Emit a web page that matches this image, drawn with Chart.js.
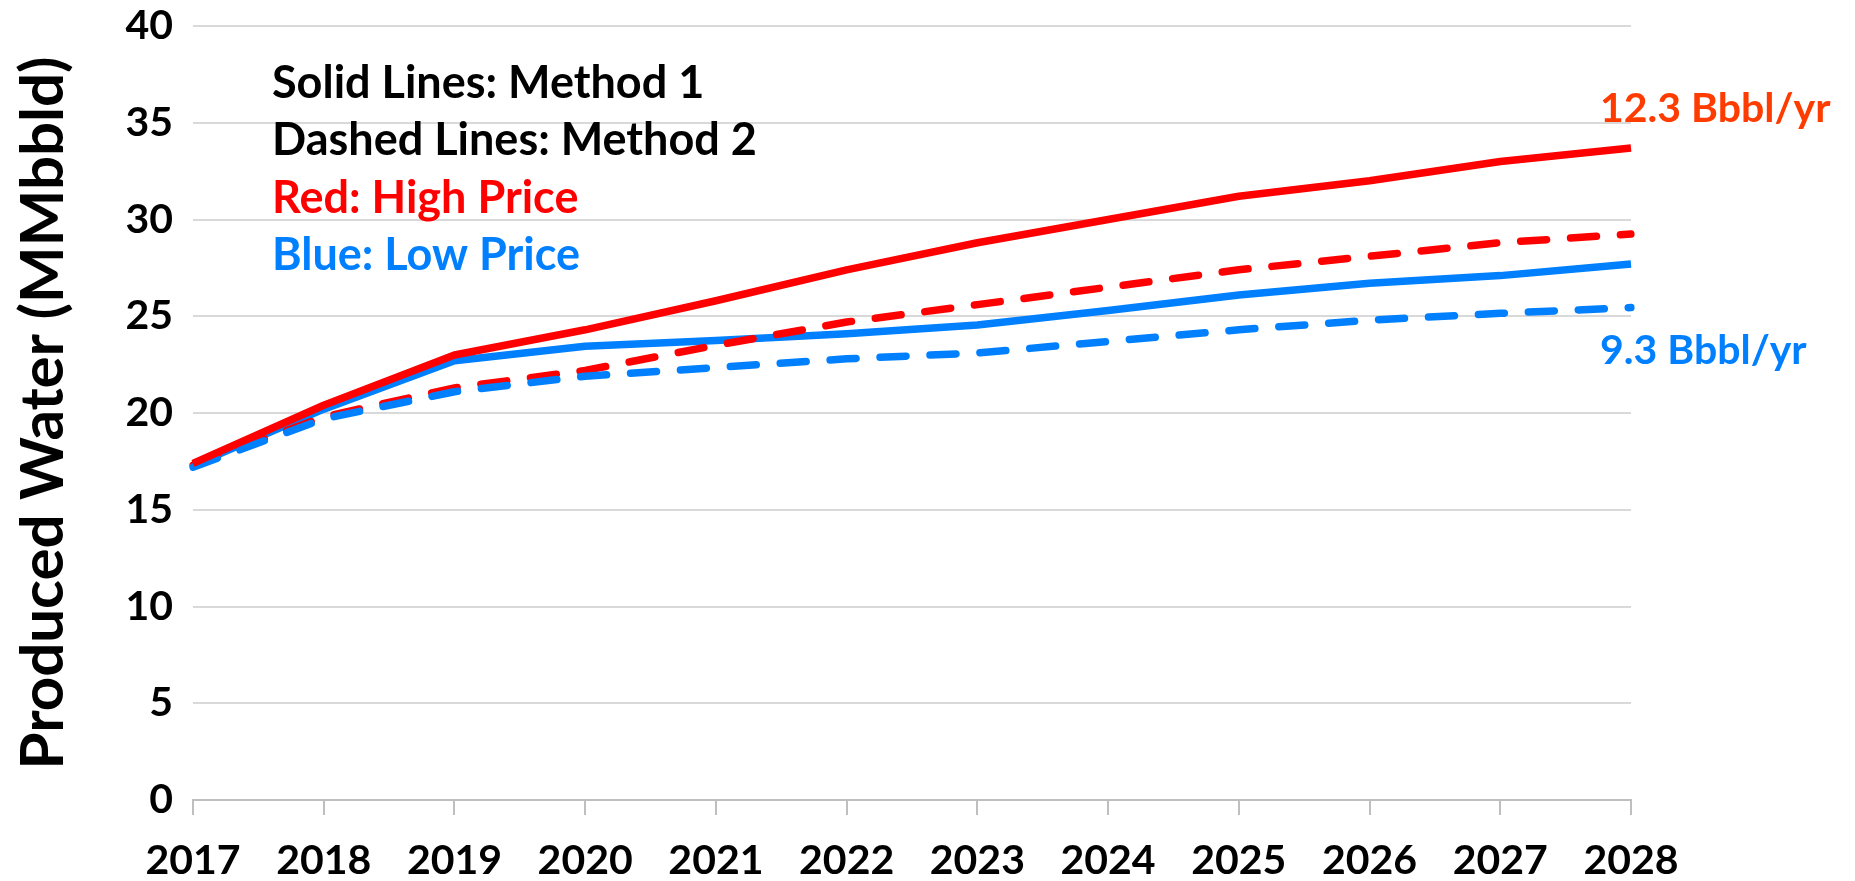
<!DOCTYPE html>
<html>
<head>
<meta charset="utf-8">
<script src="https://cdn.jsdelivr.net/npm/chart.js@4.4.0/dist/chart.umd.min.js"></script>
<style>
  html, body { margin: 0; padding: 0; background: #fff; }
  #wrap { width: 1855px; height: 881px; }
</style>
</head>
<body>
<div id="wrap"><canvas id="waterChart" width="1855" height="881"></canvas></div>
<script>
const years = ['2017', '2018', '2019', '2020', '2021', '2022', '2023', '2024', '2025', '2026', '2027', '2028'];
const highMethod1 = [17.4, 20.4, 23.0, 24.3, 25.8, 27.4, 28.8, 30.0, 31.2, 32.0, 33.0, 33.7];
const lowMethod1 = [17.3, 20.2, 22.7, 23.45, 23.75, 24.1, 24.55, 25.3, 26.1, 26.7, 27.1, 27.7];
const highMethod2 = [17.3, 19.8, 21.3, 22.2, 23.5, 24.7, 25.6, 26.5, 27.4, 28.1, 28.8, 29.25];
const lowMethod2 = [17.2, 19.7, 21.1, 21.9, 22.35, 22.8, 23.1, 23.7, 24.3, 24.8, 25.15, 25.45];
const yTicks = [0, 5, 10, 15, 20, 25, 30, 35, 40];

const legendLines = [
    { text: 'Solid Lines: Method 1', color: '#000000' },
    { text: 'Dashed Lines: Method 2', color: '#000000' },
    { text: 'Red: High Price', color: '#FF0000' },
    { text: 'Blue: Low Price', color: '#0080FF' }
];
const endNotes = [
    { text: '12.3 Bbbl/yr', color: '#FF3C00', value: 35.7 },
    { text: '9.3 Bbbl/yr', color: '#0080FF', value: 23.2 }
];

const RED = '#FF0000';
const BLUE = '#0080FF';
const FONT = 'Lato, "Open Sans", sans-serif';

// texts drawn on top of the plot (key box and the two totals on the right)
const notesPlugin = {
    id: 'notes',
    afterDatasetsDraw(chart) {
        const ctx = chart.ctx;
        const area = chart.chartArea;
        const y = chart.scales.y;
        ctx.save();
        ctx.textAlign = 'left';
        ctx.textBaseline = 'middle';
        ctx.font = 'bold 45px ' + FONT;
        legendLines.forEach((line, i) => {
            ctx.fillStyle = line.color;
            ctx.fillText(line.text, area.left + 79, area.top + 57 + i * 57.5);
        });
        ctx.font = 'bold 41px ' + FONT;
        endNotes.forEach(note => {
            ctx.fillStyle = note.color;
            ctx.fillText(note.text, area.right - 31, y.getPixelForValue(note.value));
        });
        ctx.restore();
    }
};

function lineSet(label, data, color, dashed, order) {
    return {
        label: label,
        data: data,
        borderColor: color,
        backgroundColor: color,
        borderWidth: 7.5,
        borderDash: dashed ? [26, 24] : [],
        borderCapStyle: dashed ? 'round' : 'butt',
        borderJoinStyle: 'round',
        pointRadius: 0,
        tension: 0,
        fill: false,
        order: order
    };
}

window.onload = function () {
    const ctx = document.getElementById('waterChart').getContext('2d');
    new Chart(ctx, {
        type: 'line',
        data: {
            labels: years,
            datasets: [
                lineSet('High Price, Method 1', highMethod1, RED, false, 1),
                lineSet('Low Price, Method 2', lowMethod2, BLUE, true, 2),
                lineSet('High Price, Method 2', highMethod2, RED, true, 3),
                lineSet('Low Price, Method 1', lowMethod1, BLUE, false, 4)
            ]
        },
        options: {
            responsive: false,
            animation: false,
            layout: {
                padding: { top: 26, right: 224, bottom: 0, left: 0 }
            },
            plugins: {
                legend: { display: false },
                tooltip: { enabled: false }
            },
            scales: {
                x: {
                    offset: false,
                    border: { display: true, color: '#BFBFBF', width: 2 },
                    grid: {
                        drawOnChartArea: false,
                        drawTicks: true,
                        tickLength: 15,
                        color: '#BFBFBF',
                        lineWidth: 2
                    },
                    ticks: {
                        color: '#000000',
                        font: { family: FONT, size: 41, weight: 'bold' },
                        padding: 21,
                        maxRotation: 0,
                        autoSkip: false
                    },
                    afterFit(scale) { scale.height = 81; }
                },
                y: {
                    min: 0,
                    max: 40,
                    afterBuildTicks(scale) {
                        scale.ticks = yTicks.map(v => ({ value: v }));
                    },
                    border: { display: false },
                    grid: {
                        color: '#D9D9D9',
                        lineWidth: 2,
                        drawTicks: false
                    },
                    ticks: {
                        color: '#000000',
                        font: { family: FONT, size: 41, weight: 'bold' },
                        padding: 20
                    },
                    title: {
                        display: true,
                        text: 'Produced Water (MMbbld)',
                        color: '#000000',
                        font: { family: FONT, size: 60, weight: 'bold' },
                        padding: { top: 8, bottom: 0 }
                    },
                    afterFit(scale) {
                        scale.width = 193;
                        scale.paddingTop = 0;
                        scale.paddingBottom = 0;
                    }
                }
            }
        },
        plugins: [notesPlugin]
    });
};
</script>
</body>
</html>
